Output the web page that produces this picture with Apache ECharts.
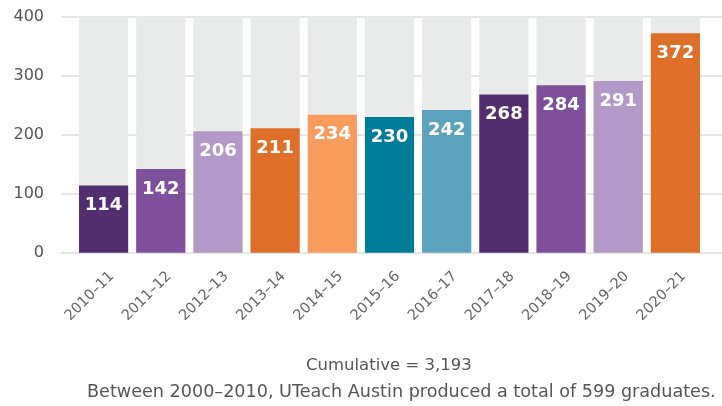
<!DOCTYPE html>
<html><head><meta charset="utf-8">
<script src="https://cdn.jsdelivr.net/npm/echarts@6/dist/echarts.min.js"></script>
<style>html,body{margin:0;padding:0;background:#fff}#c{width:722px;height:406px}</style>
</head><body><div id="c"></div>
<script>
const categories = ['2010–11','2011–12','2012–13','2013–14','2014–15','2015–16','2016–17','2017–18','2018–19','2019–20','2020–21'];
const graduates = [114, 142, 206, 211, 234, 230, 242, 268, 284, 291, 372];
const barColors = ['#532d6d','#7e509c','#b399c8','#de6f28','#f89c5e','#007c99','#5ba3bd','#532d6d','#7e509c','#b399c8','#de6f28'];
const yTicks = [0, 100, 200, 300, 400];
const footLine1 = 'Cumulative = 3,193';
const footLine2 = 'Between 2000–2010, UTeach Austin produced a total of 599 graduates.';

const FONT = '"DejaVu Sans"';
const LSHIFT = 3;
const chart = echarts.init(document.getElementById('c'), null, {renderer:'canvas'});
chart.setOption({
  animation: false,
  textStyle: {fontFamily: FONT},
  grid: [
    {left: 61, right: 0, top: 16.7, bottom: 153.3},
    {left: 75, right: 18, top: 16.7, bottom: 153.3},
    {left: 75 + LSHIFT, right: 18 - LSHIFT, top: 16.7, bottom: 153.3}
  ],
  xAxis: [
    {gridIndex: 0, type: 'value', show: false, min: 0, max: 1},
    {gridIndex: 1, type: 'category', data: categories,
     axisLine: {show: false}, axisTick: {show: false}, axisLabel: {show: false}},
    {gridIndex: 2, type: 'category', data: categories,
     axisLine: {show: false}, axisTick: {show: false},
     axisLabel: {rotate: 45, color: '#666', fontSize: 14.5, margin: 16, fontFamily: FONT,
                 align: 'right', verticalAlign: 'top', interval: 0}}
  ],
  yAxis: [
    {gridIndex: 0, type: 'value', min: yTicks[0], max: yTicks[yTicks.length-1], interval: 100,
     axisLine: {show: false}, axisTick: {show: false},
     axisLabel: {color: '#555', fontSize: 16, margin: 17, fontFamily: FONT},
     splitLine: {lineStyle: {color: '#e6e6e6', width: 2}}},
    {gridIndex: 1, type: 'value', min: 0, max: 400, show: false, splitLine: {show: false}},
    {gridIndex: 2, type: 'value', min: 0, max: 400, show: false, splitLine: {show: false}}
  ],
  series: [{
    type: 'bar', xAxisIndex: 1, yAxisIndex: 1,
    barCategoryGap: '14%',
    showBackground: true,
    backgroundStyle: {color: '#e9eaea'},
    data: graduates.map((v, i) => ({value: v, itemStyle: {color: barColors[i]}})),
    label: {show: true, position: 'insideTop', distance: 11, color: '#fff',
            fontSize: 18, fontWeight: 'bold', fontFamily: FONT}
  }],
  graphic: [
    {type: 'text', left: 306, top: 357, style: {text: footLine1, fill: '#555', fontSize: 16.5, fontFamily: FONT}},
    {type: 'text', left: 87, top: 383, style: {text: footLine2, fill: '#555', fontSize: 17.6, fontFamily: FONT}}
  ]
});
</script></body></html>
